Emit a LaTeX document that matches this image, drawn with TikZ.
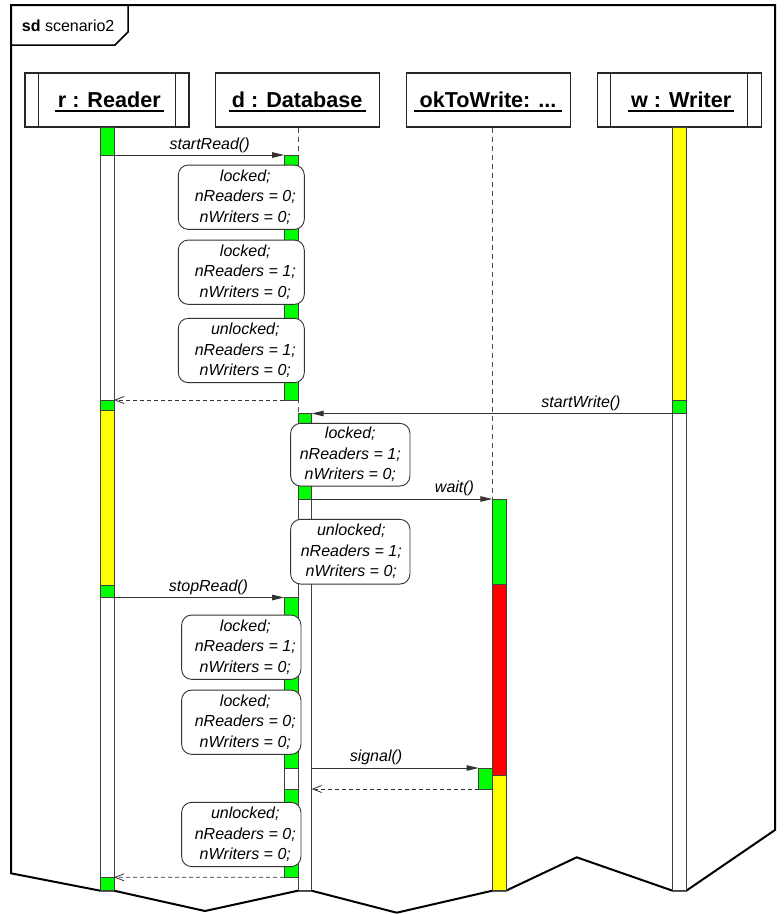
\documentclass[tikz,border=0pt]{standalone}
\usepackage{fontspec}
\setmainfont{Liberation Sans}
\usetikzlibrary{arrows.meta}

\definecolor{actgreen}{RGB}{0,255,0}
\definecolor{actyellow}{RGB}{255,255,0}
\definecolor{actred}{RGB}{255,0,0}

% activation bar: name, colour, left x, top y, bottom y
\newcommand\actbar[5]{%
  \node[bar, fill=#2, minimum height={((#5)-(#4))*1pt}] (#1) at (#3,#4) {};}

% state note: name, centre x, centre y, width, height, text shift, text
\newcommand\statenote[7]{%
  \node[note, minimum width=#4pt, minimum height=#5pt] (#1) at (#2,#3) {};
  \node[notetext] (#1t) at ([xshift=#6pt]#1.center) {#7};}

\begin{document}
\begin{tikzpicture}[x=1pt, y=-1pt,
  frame/.style={draw=black, line width=2pt, line join=miter},
  tab/.style={draw=black, line width=1.5pt},
  headbox/.style={draw=black!85, line width=1.2pt, fill=white,
    minimum width=164pt, minimum height=54pt, inner sep=0pt},
  headtext/.style={font=\fontsize{21.6}{26}\selectfont\bfseries,
    inner sep=0pt, anchor=base},
  uline/.style={draw=black, line width=1.3pt},
  bar/.style={draw=black!75, line width=0.8pt, minimum width=13.7pt,
    inner sep=0pt, outer sep=0pt, anchor=north west},
  lifeline/.style={draw=black!70, line width=0.8pt, dash pattern=on 5pt off 4pt},
  msg/.style={draw=black!80, line width=0.9pt,
    -{Triangle[length=12pt,width=5.5pt]}},
  ret/.style={draw=black!80, line width=0.8pt, dash pattern=on 4pt off 3pt,
    -{Straight Barb[length=9pt,width=7pt]}},
  msglabel/.style={font=\fontsize{16}{19}\selectfont\itshape,
    inner sep=0pt, anchor=base},
  note/.style={draw=black!80, line width=0.9pt, rounded corners=10pt,
    fill=white, inner sep=0pt},
  notetext/.style={font=\fontsize{16}{20.5}\selectfont\itshape,
    align=center, inner sep=0pt}
]
\useasboundingbox (0,0) rectangle (784,914);

% ---- frame with its torn lower edge ----
\draw[frame] (11,5) -- (775,5) -- (775,830) -- (686.3,890.7) -- (672.6,890.7)
  -- (576.7,857.3) -- (506,890.7) -- (492.3,890.7) -- (396.7,912.7)
  -- (311.6,890.7) -- (297.9,890.7) -- (205,911) -- (114,890.7)
  -- (100.3,890.7) -- (11,873.3) -- cycle;
\draw[tab] (11,45) -- (115,45) -- (128,32) -- (128,5);
\node[anchor=base west, inner sep=0pt, font=\fontsize{16}{19}\selectfont]
  (sdlabel) at (21.7,31.7) {\textbf{sd} scenario2};

% ---- lifeline heads ----
\node[headbox] (rh) at (107,100) {};
\node[headbox] (dh) at (297.7,100) {};
\node[headbox] (oh) at (488.5,100) {};
\node[headbox] (wh) at (679.2,100) {};
\foreach \h in {rh,wh}{
  \draw[draw=black!85, line width=1.2pt] ([xshift=14pt]\h.north west) -- ([xshift=14pt]\h.south west);
  \draw[draw=black!85, line width=1.2pt] ([xshift=-14pt]\h.north east) -- ([xshift=-14pt]\h.south east);
}
\node[headtext] (rt) at (109.3,107.3) {r : Reader};
\node[headtext] (dt) at (297.2,107.3) {d : Database};
\node[headtext] (ot) at (488,107.3) {okToWrite: ...};
\node[headtext] (wt) at (681.2,107.3) {w : Writer};
\foreach \t/\e in {rt/3,dt/3,ot/5,wt/3}{
  \draw[uline] ([xshift=-\e pt,yshift=-3.7pt]\t.base west) -- ([xshift=\e pt,yshift=-3.7pt]\t.base east);
}

% ---- activation bars ----
% r : Reader
\actbar{r1}{actgreen}{100.3}{127}{155}
\actbar{r2}{white}{100.3}{155}{400}
\actbar{r3}{actgreen}{100.3}{400}{410.7}
\actbar{r4}{actyellow}{100.3}{410.7}{585}
\actbar{r5}{actgreen}{100.3}{585}{597.5}
\actbar{r6}{white}{100.3}{597.5}{877.3}
\actbar{r7}{actgreen}{100.3}{877.3}{890.7}
% w : Writer
\actbar{w1}{actyellow}{672.6}{127}{400}
\actbar{w2}{actgreen}{672.6}{400}{413.5}
\actbar{w3}{white}{672.6}{413.5}{890.7}
% d : Database, dashed lifeline first
\draw[lifeline] (dh.south -| 297.9,0) -- (297.9,890.7) coordinate (dbend);
\actbar{dE}{actgreen}{297.9}{413.5}{499}
\actbar{dF}{white}{297.9}{499}{890.7}
\actbar{dA}{actgreen}{284.2}{155}{400}
\actbar{dB}{actgreen}{284.2}{597.5}{768}
\actbar{dC}{white}{284.2}{768}{789}
\actbar{dD}{actgreen}{284.2}{789}{877.3}
% okToWrite
\actbar{o1}{actgreen}{492.3}{499}{584.5}
\actbar{o2}{actred}{492.3}{584.5}{775}
\actbar{o3}{actyellow}{492.3}{775}{890.7}
\actbar{os}{actgreen}{478.6}{768}{789}
\draw[lifeline] (oh.south -| o1.west) -- (o1.north west);

% ---- state notes ----
\statenote{n1}{241.3}{197.2}{126}{64.3}{4}{locked;\\nReaders = 0;\\nWriters = 0;}
\statenote{n2}{241.3}{272.2}{126}{64.3}{4}{locked;\\nReaders = 1;\\nWriters = 0;}
\statenote{n3}{241.3}{350.5}{126}{64.3}{4}{unlocked;\\nReaders = 1;\\nWriters = 0;}
\statenote{n4}{350.3}{454.7}{119.3}{62.7}{0}{locked;\\nReaders = 1;\\nWriters = 0;}
\statenote{n5}{350.3}{551.7}{119.3}{64.7}{1}{unlocked;\\nReaders = 1;\\nWriters = 0;}
\statenote{n6}{241.3}{647.2}{119.3}{64.3}{4}{locked;\\nReaders = 1;\\nWriters = 0;}
\statenote{n7}{241.3}{722.2}{119.3}{64.3}{4}{locked;\\nReaders = 0;\\nWriters = 0;}
\statenote{n8}{241.3}{834.5}{119.3}{64.3}{4}{unlocked;\\nReaders = 0;\\nWriters = 0;}

% ---- messages ----
\draw[msg] (r1.south east) -- (dA.north west);
\draw[ret] (dA.south west) -- (r3.north east);
\draw[msg] (w3.north west) -- (dE.north east);
\draw[msg] (dE.south east) -- (o1.north west);
\draw[msg] (r5.south east) -- (dB.north west);
\draw[msg] (dF.east |- dC.north) -- (os.north west);
\draw[ret] (os.south west) -- (dF.east |- os.south);
\draw[ret] (dD.south west) -- (r7.north east);

\node[msglabel] (lsr) at (209.6,149) {startRead()};
\node[msglabel] (lsw) at (581,407) {startWrite()};
\node[msglabel] (lwt) at (454.5,492) {wait()};
\node[msglabel] (lst) at (208.5,591.7) {stopRead()};
\node[msglabel] (lsg) at (376,761.7) {signal()};
\end{tikzpicture}
\end{document}
